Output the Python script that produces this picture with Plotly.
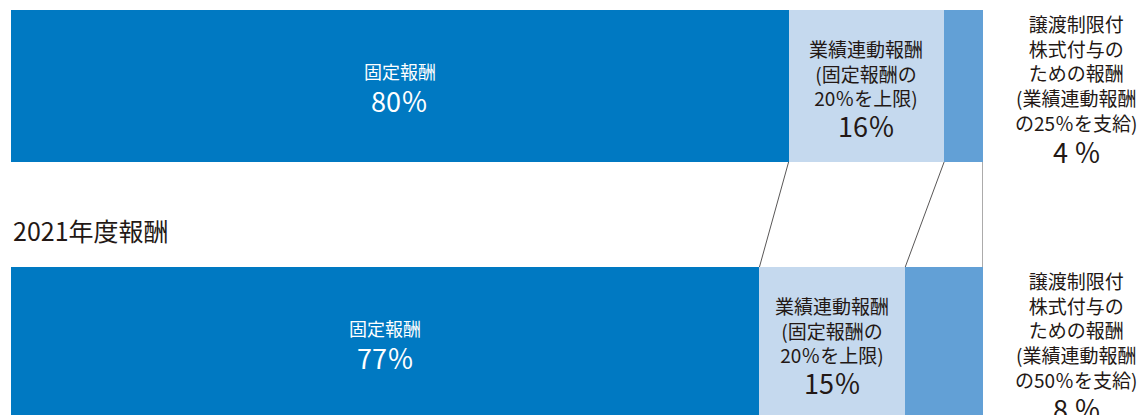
import plotly.graph_objects as go

# ---- data ----
rows = ["2022", "2021年度報酬"]          # top bar, bottom bar
fixed = [80, 77]                          # 固定報酬
perf = [16, 15]                           # 業績連動報酬
stock = [4, 8]                            # 譲渡制限付株式付与のための報酬
stock_share = ["25", "50"]                # 業績連動報酬の何%を支給
title_label = "2021年度報酬"

C_DARK = "#0079C2"
C_LIGHT = "#C5D9EE"
C_MID = "#62A0D6"
TXT = "#231815"
FONT = "Noto Sans CJK JP"

ypos = [0, 1]
BAR_W = 0.5914

fig = go.Figure()
for vals, col in [(fixed, C_DARK), (perf, C_LIGHT), (stock, C_MID)]:
    fig.add_trace(go.Bar(y=ypos, x=vals, orientation="h", width=BAR_W,
                         marker=dict(color=col, line=dict(width=0)),
                         hoverinfo="skip", showlegend=False))

ann = []
def add(x, y, text, size, color, yshift, xref="x"):
    ann.append(dict(x=x, y=y, xref=xref, yref="y", text=text, showarrow=False,
                    font=dict(family=FONT, size=size, color=color),
                    xanchor="center", yanchor="middle", yshift=-yshift))

for i in range(2):
    f, p, s = fixed[i], perf[i], stock[i]
    # fixed segment
    add(f / 2, ypos[i], "固定報酬", 18, "white", -15)
    add(f / 2, ypos[i], f"{f}％", 27, "white", 14)
    # performance segment
    pm = f + p / 2
    add(pm, ypos[i], "業績連動報酬<br>(固定報酬の<br>20％を上限)", 19, TXT, -13)
    add(pm, ypos[i], f"{p}％", 27, TXT, 39)
    # stock (outside, right)
    rx = 1.0967
    add(rx, ypos[i], "譲渡制限付<br>株式付与の<br>ための報酬<br>(業績連動報酬<br>"
        f"の{stock_share[i]}％を支給)", 19, TXT, -13, xref="paper")
    add(rx, ypos[i], f"{s} ％", 27, TXT, 65, xref="paper")

ann.append(dict(x=0, y=0.572, xref="paper", yref="y", text=title_label, showarrow=False,
                font=dict(family=FONT, size=25, color=TXT),
                xanchor="left", yanchor="middle", xshift=0, yshift=3))

# connector lines between bars
shapes = []
cum_top = [fixed[0], fixed[0] + perf[0], fixed[0] + perf[0] + stock[0]]
cum_bot = [fixed[1], fixed[1] + perf[1], fixed[1] + perf[1] + stock[1]]
for a, b in zip(cum_top, cum_bot):
    shapes.append(dict(type="line", xref="x", yref="y", x0=a, y0=ypos[0] + BAR_W / 2,
                       x1=b, y1=ypos[1] - BAR_W / 2,
                       line=dict(color="#595757", width=1)))

fig.update_layout(
    width=1140, height=415,
    margin=dict(l=11, r=157, t=0, b=0),
    paper_bgcolor="white", plot_bgcolor="white",
    barmode="stack", bargap=0,
    xaxis=dict(range=[0, 100], visible=False, fixedrange=True),
    yaxis=dict(range=[1.28016, -0.33463], visible=False, fixedrange=True),
    annotations=ann, shapes=shapes,
)
fig.write_html("out.html", config={"displayModeBar": False},
               post_script="document.body.style.margin='0';document.body.style.overflow='hidden';")
